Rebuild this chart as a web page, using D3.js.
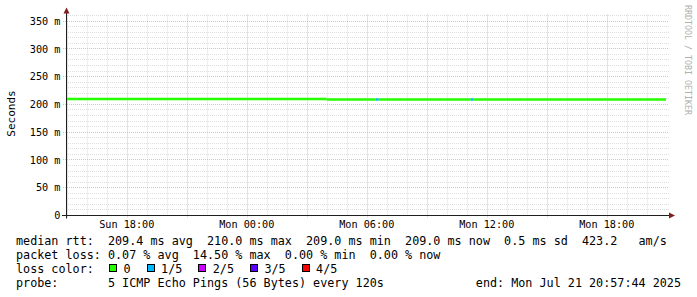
<!DOCTYPE html>
<html>
<head>
<meta charset="utf-8">
<script src="https://cdn.jsdelivr.net/npm/d3@7"></script>
<style>
    body { margin: 0; background: #fff; }
    svg text { font-family: "DejaVu Sans Mono", monospace; white-space: pre; }
</style>
</head>
<body>
<div id="chart"></div>
<script>

// ---- data ----
const endTime = "2025-07-21T20:57:44";
const rangeHours = 30;

// median rtt segments (start time, ms, lost pings of 5)
const segmentStart = ["2025-07-20T14:57:44", "2025-07-21T04:00:00", "2025-07-21T06:27:00",
                      "2025-07-21T06:36:00", "2025-07-21T11:12:00", "2025-07-21T11:21:00"];
const medianRtt = [210.0, 209.0, 209.0, 209.0, 209.0, 209.0];
const lossCount = [0, 0, 1, 0, 1, 0];

const yMax = 360;
const yMajorTicks = [0, 50, 100, 150, 200, 250, 300, 350];

const lossLabels = ["0", "1/5", "2/5", "3/5", "4/5"];
const lossColors = ["#26ff00", "#00b8ff", "#cc00ff", "#5e00ff", "#ff0000"];

const statLines = [
    "median rtt:  209.4 ms avg  210.0 ms max  209.0 ms min  209.0 ms now  0.5 ms sd  423.2   am/s",
    "packet loss: 0.07 % avg  14.50 % max  0.00 % min  0.00 % now"
];
const lossTitle = "loss color:  ";
const probeText = "probe:       5 ICMP Echo Pings (56 Bytes) every 120s";
const endText = "end: Mon Jul 21 20:57:44 2025";


class SmokeChart {

    constructor(_parentElement) {
        this.parentElement = _parentElement;
        this.initVis();
    }

    initVis() {
        let vis = this;

        vis.width = 697;
        vis.height = 297;
        vis.plot = {left: 66, right: 666, top: 15.5, bottom: 215.5};

        vis.svg = d3.select("#" + vis.parentElement).append("svg")
            .attr("width", vis.width)
            .attr("height", vis.height);

        let end = new Date(endTime);
        let start = d3.timeHour.offset(end, -rangeHours);

        vis.x = d3.scaleTime()
            .domain([start, end])
            .range([vis.plot.left, vis.plot.right]);

        vis.y = d3.scaleLinear()
            .domain([0, yMax])
            .range([vis.plot.bottom, vis.plot.top]);

        vis.gridGroup = vis.svg.append("g").attr("class", "grid");
        vis.dataGroup = vis.svg.append("g").attr("class", "data");
        vis.axisGroup = vis.svg.append("g").attr("class", "axes");
        vis.legendGroup = vis.svg.append("g").attr("class", "legend");

        this.wrangleData();
    }

    wrangleData() {
        let vis = this;
        let end = new Date(endTime);

        vis.displayData = segmentStart.map((s, i) => ({
            t0: new Date(s),
            t1: i < segmentStart.length - 1 ? new Date(segmentStart[i + 1]) : end,
            rtt: medianRtt[i],
            loss: lossCount[i]
        }));

        vis.updateVis();
    }

    updateVis() {
        let vis = this;
        let p = vis.plot;
        let px = v => Math.round(v) + 0.5;
        let minorCol = "#dedede", majorCol = "#efb9b9";

        // horizontal grid
        let minorY = d3.range(0, yMax + 1, 10).filter(d => d % 50 !== 0);
        vis.gridGroup.selectAll(".hminor")
            .data(minorY)
            .enter().append("line")
            .attr("class", "hminor")
            .attr("x1", p.left).attr("x2", 669)
            .attr("y1", d => px(vis.y(d) - 0.5)).attr("y2", d => px(vis.y(d) - 0.5))
            .attr("stroke", minorCol).attr("stroke-dasharray", "1,1");

        // vertical grid
        let hours = d3.timeHour.range(vis.x.domain()[0], vis.x.domain()[1]);
        vis.gridGroup.selectAll(".vminor")
            .data(hours.filter(d => d.getHours() % 3 !== 0))
            .enter().append("line")
            .attr("class", "vminor")
            .attr("x1", d => px(vis.x(d))).attr("x2", d => px(vis.x(d)))
            .attr("y1", p.top - 1).attr("y2", p.bottom)
            .attr("stroke", minorCol).attr("stroke-dasharray", "1,1");

        vis.gridGroup.selectAll(".hmajor")
            .data(yMajorTicks.filter(d => d > 0))
            .enter().append("line")
            .attr("class", "hmajor")
            .attr("x1", 63).attr("x2", 669)
            .attr("y1", d => px(vis.y(d) - 0.5)).attr("y2", d => px(vis.y(d) - 0.5))
            .attr("stroke", majorCol).attr("stroke-dasharray", "1,1");

        vis.gridGroup.selectAll(".vmajor")
            .data(hours.filter(d => d.getHours() % 3 === 0))
            .enter().append("line")
            .attr("class", "vmajor")
            .attr("x1", d => px(vis.x(d))).attr("x2", d => px(vis.x(d)))
            .attr("y1", p.top - 1).attr("y2", 218)
            .attr("stroke", majorCol).attr("stroke-dasharray", "1,1");

        // median rtt, coloured by loss
        let line = d3.line().x(d => d[0]).y(d => d[1]);
        let snapY = v => Math.round(vis.y(v) * 2) / 2;
        vis.dataGroup.selectAll(".rtt")
            .data(vis.displayData)
            .enter().append("path")
            .attr("class", "rtt")
            .attr("d", d => line([[vis.x(d.t0), snapY(d.rtt)], [vis.x(d.t1), snapY(d.rtt)]]))
            .attr("stroke", d => lossColors[d.loss])
            .attr("stroke-width", 2.5)
            .attr("fill", "none");

        // axes
        vis.axisGroup.append("line")
            .attr("x1", 62).attr("x2", 670)
            .attr("y1", p.bottom).attr("y2", p.bottom)
            .attr("stroke", "#1f1f1f");
        vis.axisGroup.append("line")
            .attr("x1", p.left + 0.5).attr("x2", p.left + 0.5)
            .attr("y1", p.bottom + 3).attr("y2", 12)
            .attr("stroke", "#1f1f1f");
        vis.axisGroup.append("path")
            .attr("d", `M${p.left + 0.5},7.5 L${p.left + 3.5},13.5 L${p.left - 2.5},13.5 Z`)
            .attr("fill", "#801f1f");
        vis.axisGroup.append("path")
            .attr("d", `M675,${p.bottom} L669,${p.bottom - 3} L669,${p.bottom + 3} Z`)
            .attr("fill", "#801f1f");

        // y tick labels
        vis.axisGroup.selectAll(".ylabel")
            .data(yMajorTicks)
            .enter().append("text")
            .attr("class", "ylabel")
            .attr("x", 60.5)
            .attr("y", d => vis.y(d))
            .attr("dy", "0.36em")
            .attr("text-anchor", "end")
            .style("font-size", "10.2px")
            .text(d => d === 0 ? "0" : d + " m");

        // x tick labels
        vis.axisGroup.selectAll(".xlabel")
            .data(hours.filter(d => d.getHours() % 6 === 0))
            .enter().append("text")
            .attr("class", "xlabel")
            .attr("x", d => vis.x(d))
            .attr("y", 228)
            .attr("text-anchor", "middle")
            .style("font-size", "10.2px")
            .text(d3.timeFormat("%a %H:%M"));

        // unit label
        vis.axisGroup.append("text")
            .attr("transform", "translate(15,113.5) rotate(-90)")
            .attr("text-anchor", "middle")
            .style("font-size", "11px")
            .text("Seconds");

        // watermark
        vis.axisGroup.append("text")
            .attr("transform", "translate(685,5) rotate(90)")
            .style("font-size", "8.3px")
            .attr("textLength", 110)
            .attr("lengthAdjust", "spacingAndGlyphs")
            .attr("fill", "#b0b0b0")
            .text("RRDTOOL / TOBI OETIKER");

        // legend
        let fs = 11.76, cw = fs * 0.602, lx = 16;
        let rows = [245, 259, 273, 287];

        vis.legendGroup.selectAll(".stat")
            .data(statLines)
            .enter().append("text")
            .attr("class", "stat")
            .attr("x", lx)
            .attr("y", (d, i) => rows[i])
            .style("font-size", fs + "px")
            .text(d => d);

        vis.legendGroup.append("text")
            .attr("x", lx).attr("y", rows[2])
            .style("font-size", fs + "px")
            .text(lossTitle);

        let cx = lx + lossTitle.length * cw + 1;
        lossLabels.forEach((lab, i) => {
            vis.legendGroup.append("rect")
                .attr("x", Math.round(cx) + 0.5).attr("y", rows[2] - 8.5)
                .attr("width", 7).attr("height", 7)
                .attr("fill", lossColors[i])
                .attr("stroke", "#000");
            let tx = cx + 2.05 * cw;
            vis.legendGroup.append("text")
                .attr("x", tx).attr("y", rows[2])
                .style("font-size", fs + "px")
                .text(lab);
            cx = tx + (lab.length + 2.25) * cw;
        });

        vis.legendGroup.append("text")
            .attr("x", lx).attr("y", rows[3])
            .style("font-size", fs + "px")
            .text(probeText);
        vis.legendGroup.append("text")
            .attr("x", 681).attr("y", rows[3])
            .attr("text-anchor", "end")
            .style("font-size", fs + "px")
            .text(endText);
    }
}

new SmokeChart("chart");
</script>
</body>
</html>
